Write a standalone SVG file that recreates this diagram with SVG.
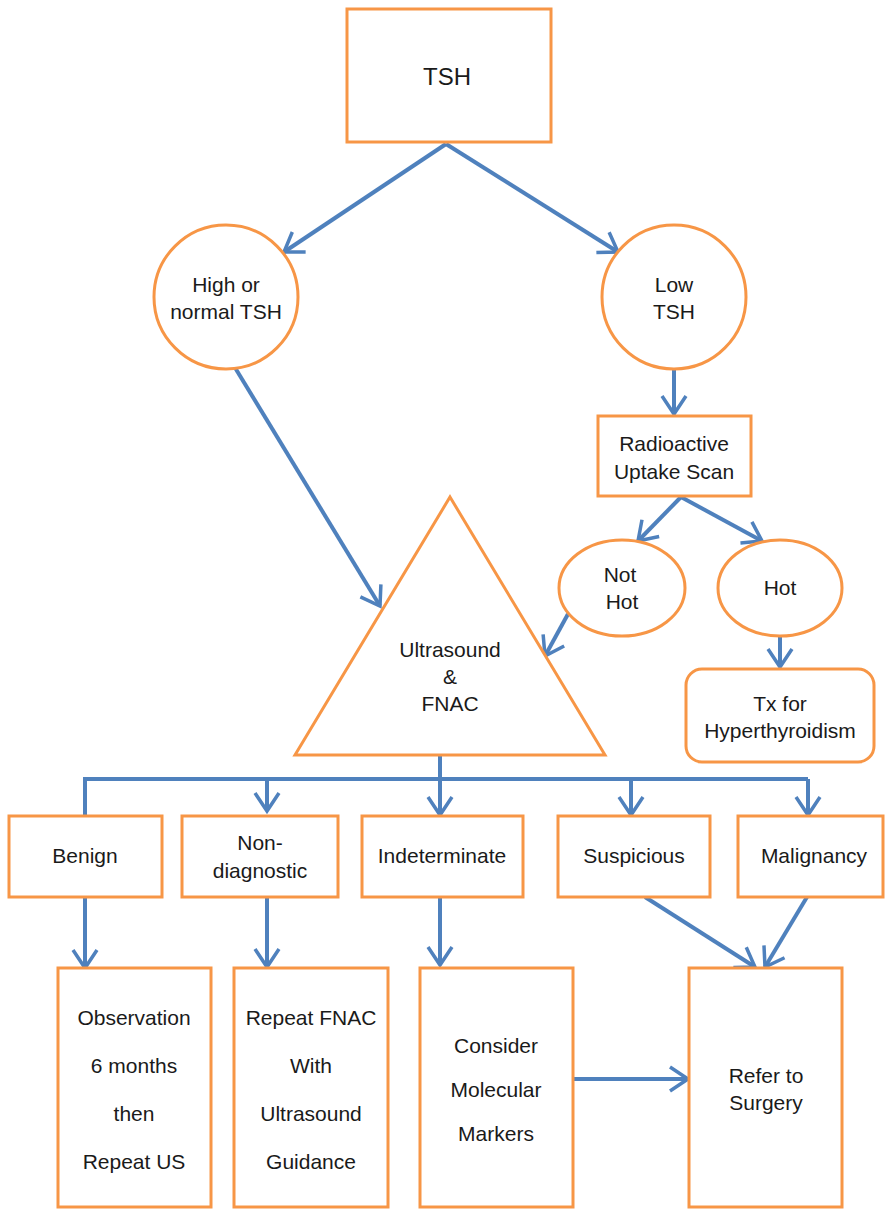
<svg xmlns="http://www.w3.org/2000/svg" width="885" height="1210" viewBox="0 0 885 1210">
<style>
.n{fill:#fff;stroke:#F79646;stroke-width:3}
.t{font-family:"Liberation Sans",Arial,sans-serif;font-size:21px;fill:#1a1a1a;text-anchor:middle;dominant-baseline:central}
.c{fill:none;stroke:#4F81BD;stroke-width:4}
.a{marker-end:url(#ah)}
</style>
<defs>
<marker id="ah" markerUnits="userSpaceOnUse" viewBox="-24 -16 28 32" markerWidth="28" markerHeight="32" refX="0" refY="0" orient="auto">
<path d="M-18,-12 L0,0 L-18,12" fill="none" stroke="#4F81BD" stroke-width="3.5"/>
</marker>
</defs>
<rect width="885" height="1210" fill="#fff"/>
<g id="connectors">
<path class="c a" d="M446,144 L284,252"/>
<path class="c a" d="M446,144 L618,252"/>
<path class="c a" d="M674,368 L674,414"/>
<path class="c a" d="M681,497 L638,541"/>
<path class="c a" d="M681,497 L762,541"/>
<path class="c a" d="M568,614 L545,656"/>
<path class="c a" d="M780,637 L780,667"/>
<path class="c a" d="M234,366 L380,606"/>
<path class="c" d="M440,756 L440,779 M85,816 L85,779 L808,779"/>
<path class="c a" d="M267,779 L267,811"/>
<path class="c a" d="M440,779 L440,815"/>
<path class="c a" d="M631,779 L631,815"/>
<path class="c a" d="M808,779 L808,815"/>
<path class="c a" d="M85,898 L85,968"/>
<path class="c a" d="M267,898 L267,967"/>
<path class="c a" d="M440,898 L440,965"/>
<path class="c a" d="M645,897 L755,967"/>
<path class="c a" d="M807,897 L765,967"/>
<path class="c a" d="M573,1079 L688,1079"/>
</g>
<g id="tsh"><rect class="n" x="347" y="9" width="204" height="133"/><text class="t" x="447" y="76" style="font-size:24px">TSH</text></g>
<g id="high"><circle class="n" cx="226" cy="297" r="72"/><text class="t" x="226" y="284">High or</text><text class="t" x="226" y="311">normal TSH</text></g>
<g id="low"><circle class="n" cx="674" cy="297" r="72"/><text class="t" x="674" y="284">Low</text><text class="t" x="674" y="311">TSH</text></g>
<g id="scan"><rect class="n" x="598" y="416" width="153" height="80"/><text class="t" x="674" y="443">Radioactive</text><text class="t" x="674" y="471">Uptake Scan</text></g>
<g id="nothot"><ellipse class="n" cx="622" cy="588" rx="63" ry="48"/><text class="t" x="620" y="574">Not</text><text class="t" x="622" y="601">Hot</text></g>
<g id="hot"><ellipse class="n" cx="780" cy="588" rx="62" ry="48"/><text class="t" x="780" y="587">Hot</text></g>
<g id="tx"><rect class="n" x="686" y="669" width="188" height="93" rx="16"/><text class="t" x="780" y="703">Tx for</text><text class="t" x="780" y="730">Hyperthyroidism</text></g>
<g id="usfnac"><path class="n" d="M450,497 L605,755 L295,755 Z"/><text class="t" x="450" y="649">Ultrasound</text><text class="t" x="450" y="676">&amp;</text><text class="t" x="450" y="703">FNAC</text></g>
<g id="benign"><rect class="n" x="9" y="816" width="153" height="81"/><text class="t" x="85" y="855">Benign</text></g>
<g id="nondiag"><rect class="n" x="182" y="816" width="156" height="81"/><text class="t" x="260" y="842">Non-</text><text class="t" x="260" y="870">diagnostic</text></g>
<g id="indet"><rect class="n" x="362" y="816" width="161" height="81"/><text class="t" x="442" y="855">Indeterminate</text></g>
<g id="susp"><rect class="n" x="558" y="816" width="152" height="81"/><text class="t" x="634" y="855">Suspicious</text></g>
<g id="malig"><rect class="n" x="738" y="816" width="145" height="81"/><text class="t" x="814" y="855">Malignancy</text></g>
<g id="obs"><rect class="n" x="58" y="968" width="153" height="239"/><text class="t" x="134" y="1017">Observation</text><text class="t" x="134" y="1065">6 months</text><text class="t" x="134" y="1113">then</text><text class="t" x="134" y="1161">Repeat US</text></g>
<g id="repeat"><rect class="n" x="234" y="968" width="154" height="239"/><text class="t" x="311" y="1017">Repeat FNAC</text><text class="t" x="311" y="1065">With</text><text class="t" x="311" y="1113">Ultrasound</text><text class="t" x="311" y="1161">Guidance</text></g>
<g id="consider"><rect class="n" x="420" y="968" width="153" height="239"/><text class="t" x="496" y="1045">Consider</text><text class="t" x="496" y="1089">Molecular</text><text class="t" x="496" y="1133">Markers</text></g>
<g id="refer"><rect class="n" x="689" y="968" width="153" height="239"/><text class="t" x="766" y="1075">Refer to</text><text class="t" x="766" y="1102">Surgery</text></g>
</svg>
